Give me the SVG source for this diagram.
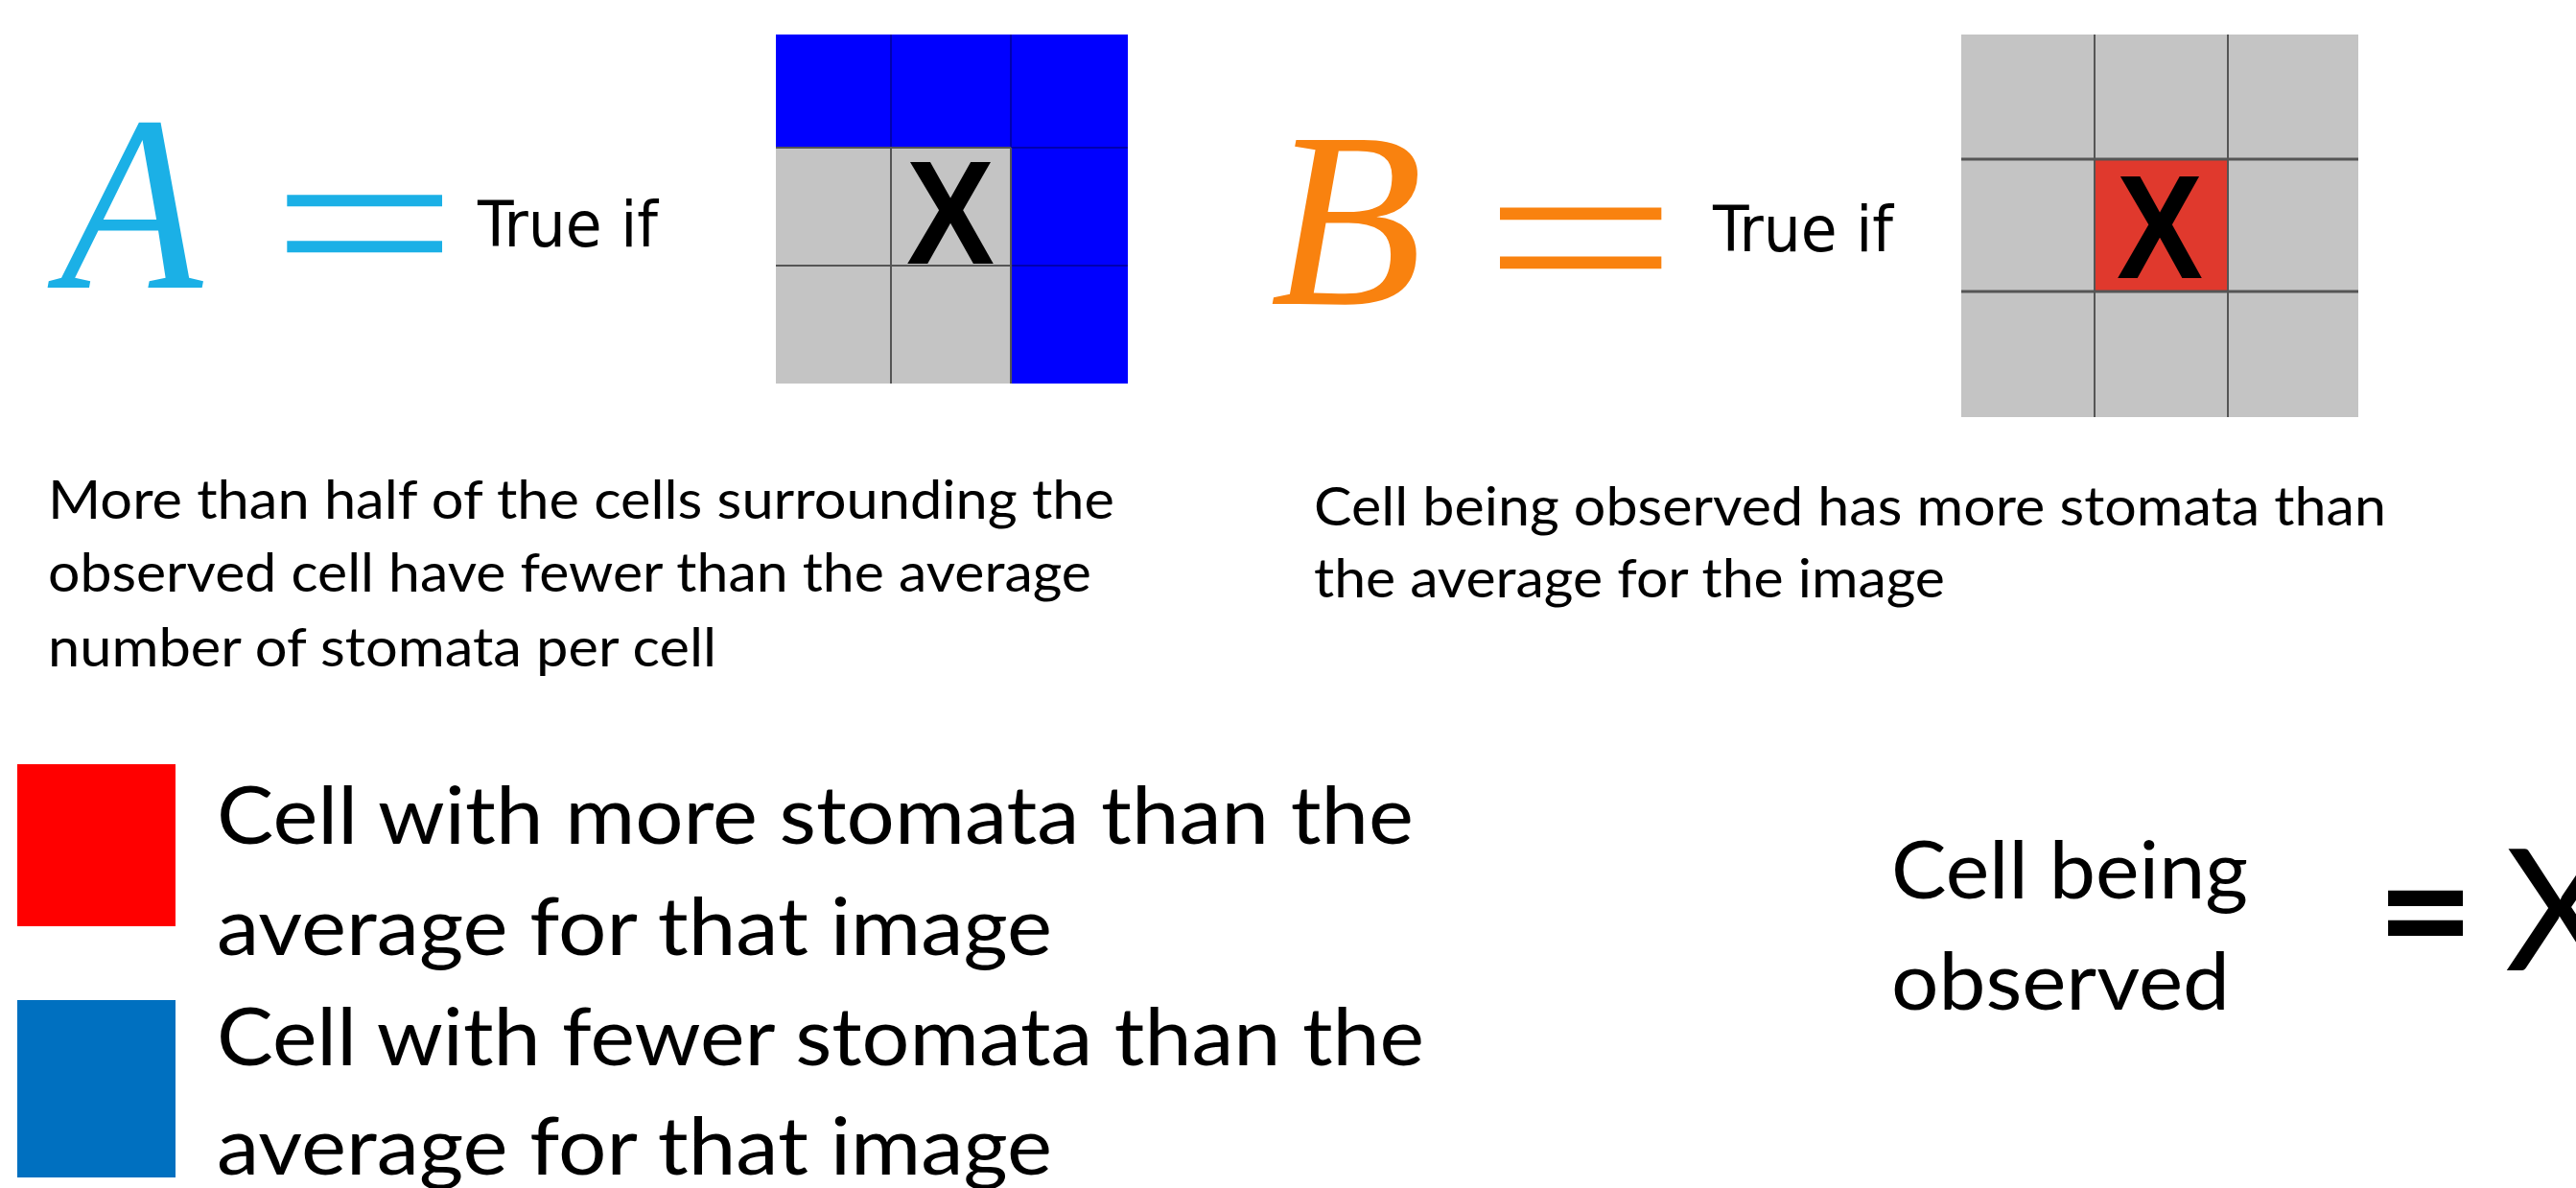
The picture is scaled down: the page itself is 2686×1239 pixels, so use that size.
<svg xmlns="http://www.w3.org/2000/svg" width="2686" height="1239" viewBox="0 0 2686 1239">
<style>
.body{font-family:Lato,"Open Sans","Liberation Sans",sans-serif;fill:#000}
.d{font-size:56px}
.l{font-size:84px}
.trueif{font-family:"DejaVu Sans Condensed","DejaVu Sans",sans-serif;font-size:66px;fill:#000}
.sym{font-family:"Liberation Serif","DejaVu Serif",serif;font-style:italic;font-size:261px}
.eq{font-family:"Liberation Serif","DejaVu Serif",serif}
.cx{font-family:"Liberation Sans",Arial,sans-serif;font-weight:bold;font-size:154px;fill:#000}
.gray{fill:#C4C4C4}
.blue{fill:#0000FF}
.gl{stroke:#555;stroke-width:2;fill:none}
.glb{stroke:#0000B0;stroke-width:2;fill:none}
</style>
<rect width="2686" height="1239" fill="#fff"/>

<g id="formula-a">
<text class="sym" transform="translate(137,300) scale(0.93,1)" x="0" y="0" text-anchor="middle" fill="#1BB0E6">A</text>
<text class="eq" x="282" y="313" font-size="240" textLength="196" lengthAdjust="spacingAndGlyphs" fill="#1BB0E6">=</text>
<text class="trueif" x="498" y="257" textLength="188" lengthAdjust="spacingAndGlyphs">True if</text>
</g>

<g id="grid-a">
<rect class="blue" x="809" y="36" width="367" height="118"/>
<rect class="blue" x="1054" y="36" width="122" height="364"/>
<rect class="gray" x="809" y="154" width="245" height="246"/>
<path class="glb" d="M929 36V154M1054 36V154M1054 154H1176M1054 277H1176"/>
<path class="gl" d="M809 154H1054M809 277H1054M929 154V400M1054 154V400"/>
<text class="cx" x="991" y="275" text-anchor="middle" textLength="92" lengthAdjust="spacingAndGlyphs">X</text>
</g>

<g id="desc-a" class="body d">
<text x="50" y="541" textLength="1112" lengthAdjust="spacingAndGlyphs">More than half of the cells surrounding the</text>
<text x="50" y="617" textLength="1088" lengthAdjust="spacingAndGlyphs">observed cell have fewer than the average</text>
<text x="50" y="695" textLength="697" lengthAdjust="spacingAndGlyphs">number of stomata per cell</text>
</g>

<g id="formula-b">
<text class="sym" x="1404" y="317" text-anchor="middle" fill="#F9820F">B</text>
<text class="eq" x="1546" y="333" font-size="255" textLength="204" lengthAdjust="spacingAndGlyphs" fill="#F9820F">=</text>
<text class="trueif" x="1786" y="262" textLength="188" lengthAdjust="spacingAndGlyphs">True if</text>
</g>

<g id="grid-b">
<rect class="gray" x="2045" y="36" width="414" height="399"/>
<rect x="2184" y="166" width="139" height="138" fill="#E0392D"/>
<path class="gl" d="M2184 36V435M2323 36V435"/>
<path stroke="#555" stroke-width="3" fill="none" d="M2045 166H2459M2045 304H2459"/>
<text class="cx" x="2252" y="290" text-anchor="middle" textLength="90" lengthAdjust="spacingAndGlyphs">X</text>
</g>

<g id="desc-b" class="body d">
<text x="1370" y="548" textLength="1118" lengthAdjust="spacingAndGlyphs">Cell being observed has more stomata than</text>
<text x="1370" y="623" textLength="658" lengthAdjust="spacingAndGlyphs">the average for the image</text>
</g>

<g id="legend-red">
<rect x="18" y="797" width="165" height="169" fill="#FF0000"/>
<text class="body l" x="226" y="880" textLength="1248" lengthAdjust="spacingAndGlyphs">Cell with more stomata than the</text>
<text class="body l" x="226" y="996" textLength="871" lengthAdjust="spacingAndGlyphs">average for that image</text>
</g>

<g id="legend-blue">
<rect x="18" y="1043" width="165" height="185" fill="#0070C0"/>
<text class="body l" x="226" y="1111" textLength="1259" lengthAdjust="spacingAndGlyphs">Cell with fewer stomata than the</text>
<text class="body l" x="226" y="1225" textLength="871" lengthAdjust="spacingAndGlyphs">average for that image</text>
</g>

<g id="observed-key" class="body">
<text class="l" x="1972" y="937" textLength="372" lengthAdjust="spacingAndGlyphs">Cell being</text>
<text class="l" x="1972" y="1053" textLength="353" lengthAdjust="spacingAndGlyphs">observed</text>
<text x="2478" y="1012" font-size="176" font-weight="bold">=</text>
<text x="2612" y="1012" font-size="176">X</text>
</g>
</svg>
